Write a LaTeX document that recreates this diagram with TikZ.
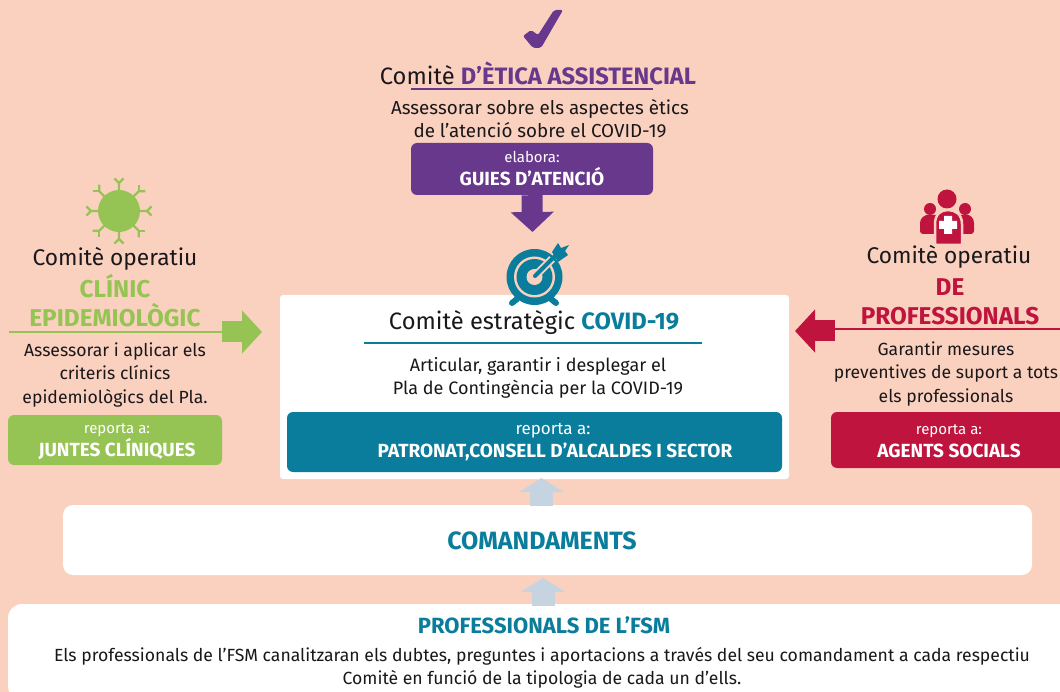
\documentclass[tikz,border=0pt]{standalone}
\usepackage{fontspec}
\setmainfont{Fira Sans}
\definecolor{fsm_bg}{RGB}{250, 209, 191}
\definecolor{fsm_purple}{RGB}{103, 56, 140}
\definecolor{fsm_teal}{RGB}{9, 125, 155}
\definecolor{fsm_green}{RGB}{150, 196, 84}
\definecolor{fsm_red}{RGB}{190, 20, 62}
\definecolor{fsm_grey}{RGB}{197, 212, 224}
\definecolor{fsm_ink}{RGB}{26, 23, 27}
\usetikzlibrary{arrows.meta, positioning, calc}
\newcommand{\replab}[2][15]{{\fontsize{#1}{23}\selectfont\mdseries #2}}

\begin{document}
\begin{tikzpicture}[x=1pt, y=-1pt, inner sep=0pt, text=fsm_ink,
          txt/.style={align=center, font=\fontsize{17.6}{23.3}\selectfont},
          ttl/.style={align=center, font=\fontsize{23.7}{28}\selectfont},
          opr/.style={align=center, font=\fontsize{22.7}{28}\selectfont},
          opb/.style={align=center, font=\fontsize{24.3}{29}\selectfont\bfseries},
          blk/.style={rounded corners=6pt, text=white, align=center,
                      font=\fontsize{19}{23}\selectfont\bfseries},
          rule/.style={line width=1.2pt},
          arr/.style={line width=21pt, -{Triangle[width=42pt, length=20pt]}},
          uparr/.style={line width=23pt, fsm_grey, -{Triangle[width=44pt, length=14pt]}}]
          \fill[fsm_bg] (0, 0) rectangle (1060, 692);
          \useasboundingbox (0, 0) rectangle (1060, 692);
          % centre
          \fill[white, rounded corners=3pt] (280, 295) rectangle (789, 479);
          \node[ttl] (estrat) at (534, 323)
            {Comitè estratègic \textcolor{fsm_teal}{\textbf{COVID-19}}};
          \coordinate (estrat_l) at (364, 343);
          \coordinate (estrat_r) at (702, 343);
          \draw[rule, fsm_teal] (estrat_l) -- (estrat_r);
          \node[txt, font=\fontsize{18}{23.5}\selectfont] (estrat_txt) at (538, 378)
            {Articular, garantir i desplegar el\\Pla de Contingència per la COVID-19};
          \fill[fsm_teal, rounded corners=6pt] (287, 412) rectangle (782, 472);
          \node[blk] (estrat_rep) at (555, 442)
            {\replab[17]{\hspace*{-4pt}reporta a:}\\PATRONAT,CONSELL D’ALCALDES I SECTOR};
          % target icon
          \node[circle, fill=fsm_teal, minimum size=56pt] (target) at (534.5, 277) {};
          \fill[fsm_bg] (target.center) circle (20.5);
          \fill[fsm_teal] (target.center) circle (18);
          \fill[fsm_bg] (target.center) circle (8);
          \draw[fsm_bg, line width=8pt] (535, 276) -- (552, 259);
          \draw[fsm_teal, line width=4pt, line cap=round] (535, 276) -- (555, 256);
          \fill[fsm_teal] (552, 252) -- (558, 243) -- (561, 248) -- (569, 245) -- (565, 251) -- (568, 255) -- (558, 262) -- cycle;
          \draw[fsm_teal, line width=6pt, line cap=round] (512, 303) -- (517, 299);
          \draw[fsm_teal, line width=6pt, line cap=round] (551, 299) -- (556, 303);
          % etica
          \fill[fsm_purple, rounded corners=2pt] (523, 36) -- (531, 30) -- (538, 35) -- (554, 10) -- (563, 10) -- (541, 48) -- (533, 48) -- cycle;
          \node[ttl] (etica) at (538, 73)
            {Comitè \textcolor{fsm_purple}{\textbf{D’ÈTICA ASSISTENCIAL}}};
          \coordinate (etica_l) at (411, 89);
          \coordinate (etica_r) at (653, 89);
          \draw[rule, fsm_purple] (etica_l) -- (etica_r);
          \node[txt, font=\fontsize{18.8}{23}\selectfont] (etica_txt) at (540, 119)
            {Assessorar sobre els aspectes ètics\\de l’atenció sobre el COVID-19};
          \node[blk, fill=fsm_purple, minimum width=242pt, minimum height=52pt] (guies) at (532, 169)
            {\replab{elabora:}\\GUIES D’ATENCIÓ};
          \coordinate (guies_tip) at (532.5, 232);
          \draw[arr, fsm_purple] (guies.south) -- (guies_tip);
          % clinic
          \node[circle, fill=fsm_green, minimum size=42pt] (virus) at (119, 211) {};
          \foreach \a in {0, 45, ..., 315} {
            \draw[shift={(virus.center)}, fsm_green, line width=2.2pt] (\a:20) -- (\a:28) -- ++(\a+45:6.5);
            \draw[shift={(virus.center)}, fsm_green, line width=2.2pt] (\a:28) -- ++(\a-45:6.5);
          }
          \node[opr] (clinic) at (115, 259) {Comitè operatiu};
          \node[opb, text=fsm_green] (clinic_b) at (115, 301) {CLÍNIC\\EPIDEMIOLÒGIC};
          \coordinate (clinic_l) at (9, 332);
          \coordinate (clinic_tip) at (262, 332);
          \coordinate (clinic_arr) at (222, 332);
          \draw[rule, fsm_green] (clinic_l) -- (clinic_arr);
          \fill[fsm_green, rounded corners=6pt] (8, 415) rectangle (222, 465);
          \node[blk] (juntes) at (117, 441.5)
            {\replab{reporta a:}\\JUNTES CLÍNIQUES};
          \draw[arr, fsm_green] (clinic_arr) -- (clinic_tip);
          \node[txt] (clinic_txt) at (115, 375)
            {Assessorar i aplicar els\\criteris clínics\\epidemiològics del Pla.};
          % professionals
          \fill[fsm_red, rounded corners=3pt] (920, 234) -- (920, 226) .. controls (920, 218) and (925, 215) .. (930, 215) -- (965, 215) .. controls (970, 215) and (974, 218) .. (974, 226) -- (974, 234) -- cycle;
          \fill[fsm_red] (930, 209) circle (6) (965, 209) circle (6);
          \node[circle, fill=fsm_red, minimum size=19pt] (head) at (947, 199) {};
          \fill[fsm_red, draw=fsm_bg, line width=2.5pt] (935, 245) -- (935, 224) .. controls (935, 214) and (941, 210) .. (948, 210) .. controls (955, 210) and (962, 214) .. (962, 224) -- (962, 245) -- cycle;
          \fill[white] (944, 216) rectangle (952, 234) (939, 221) rectangle (957, 229);
          \node[opr] (prof) at (949, 257) {Comitè operatiu};
          \node[opb, text=fsm_red] (prof_b) at (950, 302) {DE\\PROFESSIONALS};
          \coordinate (prof_r) at (1060, 329);
          \coordinate (prof_arr) at (835, 331);
          \coordinate (prof_tip) at (795, 331);
          \draw[rule, fsm_red] (prof_r) -- (835, 329);
          \draw[arr, fsm_red] (prof_arr) -- (prof_tip);
          \node[txt] (prof_txt) at (946, 374)
            {Garantir mesures\\preventives de suport a tots\\els professionals};
          \fill[fsm_red, rounded corners=6pt] (831, 412) rectangle (1070, 468);
          \node[blk] (agents) at (949, 441) {\replab{reporta a:}\\AGENTS SOCIALS};
          % comandaments
          \fill[white, rounded corners=10pt] (63, 505) rectangle (1032, 575);
          \node[text=fsm_teal, font=\fontsize{25}{28}\selectfont\bfseries] (coman) at (542, 541) {COMANDAMENTS};
          \fill[white, rounded corners=14pt] (8, 604) rectangle (1080, 700);
          \node[text=fsm_teal, font=\fontsize{22}{26}\selectfont\bfseries] (fsm) at (544, 625) {PROFESSIONALS DE L’FSM};
          \node[txt] (fsm_txt) at (542, 668)
            {Els professionals de l’FSM canalitzaran els dubtes, preguntes i aportacions a través del seu comandament a cada respectiu\\Comitè en funció de la tipologia de cada un d’ells.};
          \coordinate (coman_top) at (541.5, 478);
          \coordinate (coman_bot) at (541.5, 506);
          \coordinate (fsm_top) at (543, 578);
          \coordinate (fsm_bot) at (543, 606);
          \draw[uparr] (coman_bot) -- (coman_top);
          \draw[uparr] (fsm_bot) -- (fsm_top);
        \end{tikzpicture}
\end{document}
